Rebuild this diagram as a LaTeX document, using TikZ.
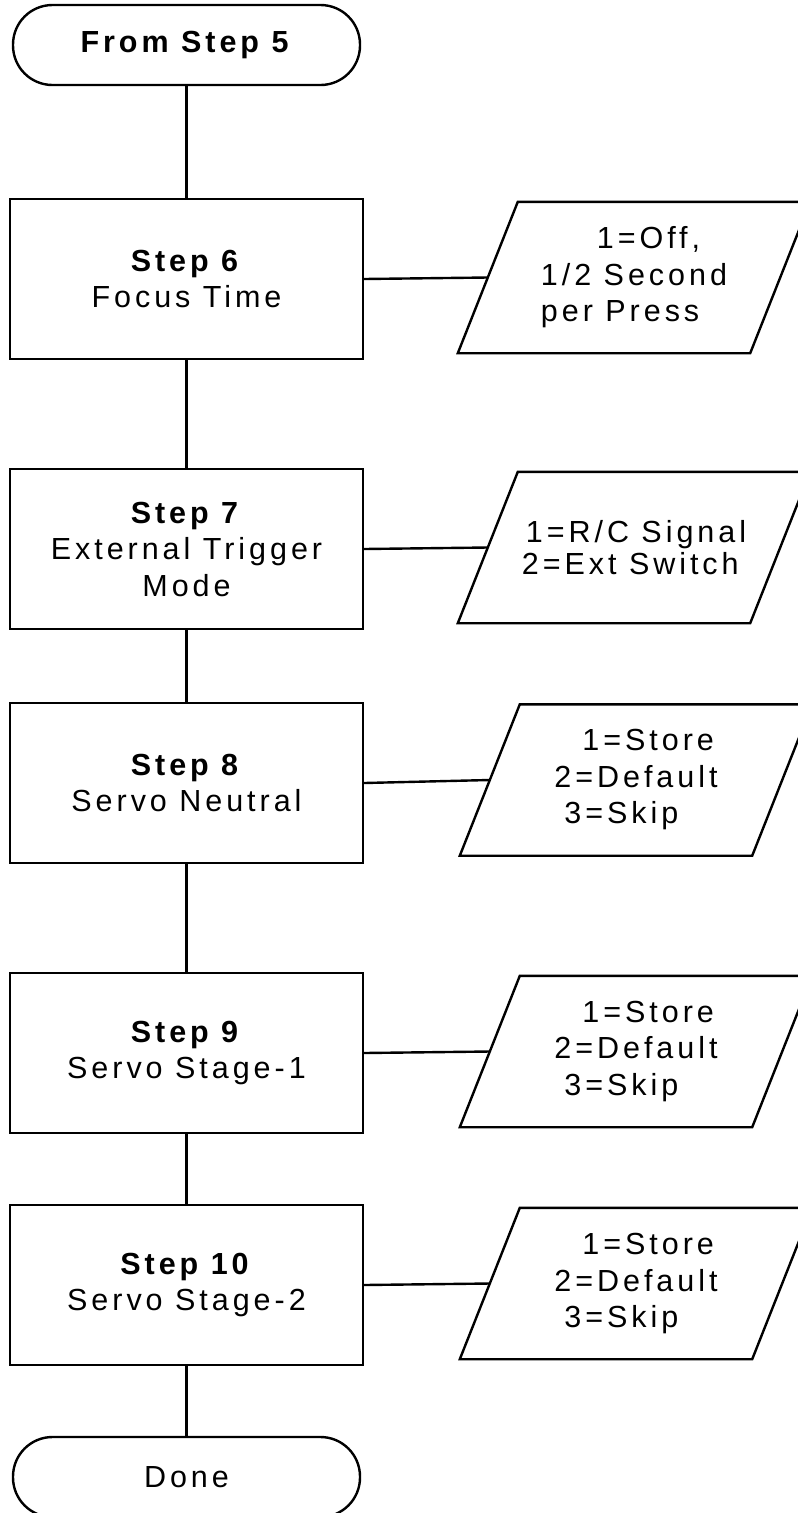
\documentclass[tikz,border=0pt]{standalone}
\usepackage{fontspec}
\setmainfont{Liberation Sans}[LetterSpace=13]
\begin{document}
\begin{tikzpicture}[x=1pt,y=-1pt,
  stepbox/.style={draw, line width=2.4pt, minimum width=353pt, minimum height=160pt,
    inner sep=0pt, align=center, font=\fontsize{30.5}{36.5}\selectfont},
  term/.style={draw, line width=2.4pt, rounded corners=39.5pt, minimum width=347pt,
    minimum height=80pt, inner sep=0pt, font=\fontsize{30.5}{36.5}\selectfont},
  io/.style={minimum width=292pt, minimum height=151pt, inner sep=0pt, align=left,
    font=\fontsize{30.5}{36.5}\selectfont},
  conn/.style={line width=2.4pt},
  slant/.style={line width=2.4pt, line join=miter}
]
\useasboundingbox (0,0) rectangle (798,1513);

% terminals
\node[term] (start) at (186.5,45) {\textbf{From Step 5}};
\node[term] (done) at (186.5,1477) {Done};

% step boxes
\node[stepbox] (s6) at (186.5,279) {\textbf{Step 6}\\Focus Time};
\node[stepbox] (s7) at (186.5,549) {\textbf{Step 7}\\External Trigger\\Mode};
\node[stepbox] (s8) at (186.5,783) {\textbf{Step 8}\\Servo Neutral};
\node[stepbox] (s9) at (186.5,1053) {\textbf{Step 9}\\Servo Stage-1};
\node[stepbox] (s10) at (186.5,1285) {\textbf{Step 10}\\Servo Stage-2};

% input/output parallelograms
\node[io] (p6) at (634,277.5) {\hspace*{56pt}1=Off,\\1/2 Second\\per Press};
\node[io, font=\fontsize{30.5}{32}\selectfont] (p7) at (634,547.5) {\hspace*{4pt}1=R/C Signal\\2=Ext Switch};
\node[io] (p8) at (636,780) {\hspace*{28pt}1=Store\\2=Default\\\hspace*{10pt}3=Skip};
\node[io] (p9) at (636,1051.5) {\hspace*{28pt}1=Store\\2=Default\\\hspace*{10pt}3=Skip};
\node[io] (p10) at (636,1283.5) {\hspace*{28pt}1=Store\\2=Default\\\hspace*{10pt}3=Skip};

\foreach \p in {p6,p7,p8,p9,p10}{
  \draw[slant] ([xshift=-30pt]\p.south west) -- ([xshift=30pt]\p.north west)
    -- ([xshift=30pt]\p.north east) -- ([xshift=-30pt]\p.south east) -- cycle;
}

% vertical flow
\draw[conn] (start) -- (s6);
\draw[conn] (s6) -- (s7);
\draw[conn] (s7) -- (s8);
\draw[conn] (s8) -- (s9);
\draw[conn] (s9) -- (s10);
\draw[conn] (s10) -- (done);

% side connectors
\draw[conn] (s6.east) -- (p6.west);
\draw[conn] (s7.east) -- (p7.west);
\draw[conn] (s8.east) -- (p8.west);
\draw[conn] (s9.east) -- (p9.west);
\draw[conn] (s10.east) -- (p10.west);
\end{tikzpicture}
\end{document}
